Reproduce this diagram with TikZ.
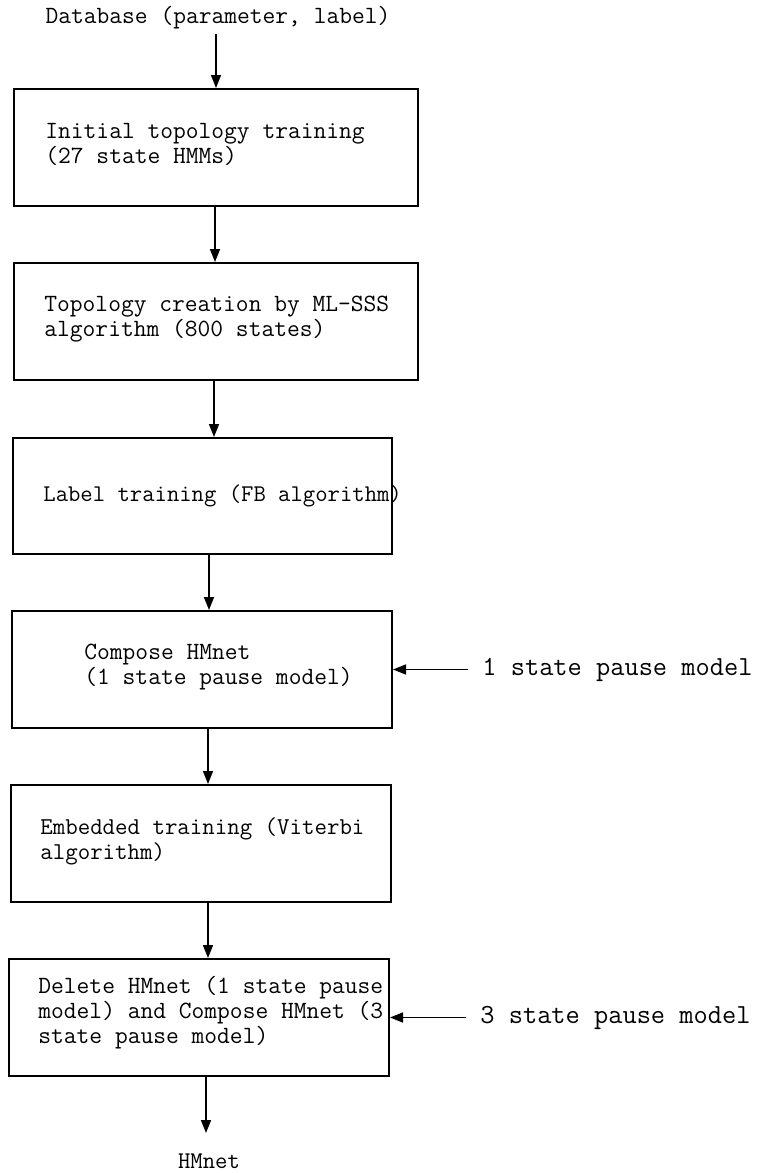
\documentclass[tikz,border=0pt]{standalone}
\usetikzlibrary{arrows.meta}
\begin{document}
\begin{tikzpicture}[x=0.5pt,y=-0.5pt,
  stepbox/.style={draw, line width=1pt, rectangle, inner sep=0pt, anchor=north west},
  txt/.style={font=\fontsize{12.4}{12.5}\selectfont\ttfamily, inner sep=0pt, align=left, anchor=west},
  lbl/.style={font=\fontsize{13.8}{14}\selectfont\ttfamily, inner sep=0pt, anchor=base west},
  flow/.style={line width=0.8pt, -{Triangle[length=6.5pt,width=5pt]}}]
\useasboundingbox (0,0) rectangle (760,1173);
% boxes
\node[stepbox, minimum width=202pt, minimum height=58.5pt] (b1) at (13,88) {};
\node[stepbox, minimum width=202pt, minimum height=58.5pt] (b2) at (13,262) {};
\node[stepbox, minimum width=189.5pt, minimum height=58pt] (b3) at (12,437) {};
\node[stepbox, minimum width=190pt, minimum height=58.5pt] (b4) at (11,610) {};
\node[stepbox, minimum width=190pt, minimum height=58.5pt] (b5) at (10,784) {};
\node[stepbox, minimum width=190pt, minimum height=58.5pt] (b6) at (8,958) {};
% box texts
\node[txt] (t1) at (45,144.5) {Initial topology training\\(27 state HMMs)};
\node[txt] (t2) at (44,319.5) {Topology creation by ML-SSS\\algorithm (800 states)};
\node[txt, font=\fontsize{12}{12.5}\selectfont\ttfamily] (t3) at (43,496) {Label training (FB algorithm)};
\node[txt] (t4) at (84,667) {Compose HMnet\\(1 state pause model)};
\node[txt, font=\fontsize{12.1}{12.5}\selectfont\ttfamily] (t5) at (40,841.5) {Embedded training (Viterbi\\algorithm)};
\node[txt] (t6) at (38,1013) {Delete HMnet (1 state pause\\model) and Compose HMnet (3\\state pause model)};
% outside texts
\node[font=\fontsize{12.4}{12.5}\selectfont\ttfamily, inner sep=0pt, anchor=base] (db) at (218,23) {Database (parameter, label)};
\node[lbl] (p1) at (482,675) {1 state pause model};
\node[lbl] (p2) at (480,1023) {3 state pause model};
\node[font=\fontsize{12}{12.5}\selectfont\ttfamily, inner sep=0pt, anchor=base] (hm) at (209,1168) {HMnet};
% arrow x positions
\coordinate (x1) at (216,0);
\coordinate (x2) at (215,0);
\coordinate (x3) at (214,0);
\coordinate (x4) at (209,0);
\coordinate (x5) at (208,0);
\coordinate (x6) at (208,0);
\coordinate (x7) at (206,0);
\coordinate (s1) at (468,0);
\coordinate (s2) at (466,0);
\coordinate (e7) at (206,1133);
% connectors
\draw[flow] ([yshift=-2.5pt]db.south -| x1) -- (b1.north -| x1);
\draw[flow] (b1.south -| x2) -- (b2.north -| x2);
\draw[flow] (b2.south -| x3) -- (b3.north -| x3);
\draw[flow] (b3.south -| x4) -- (b4.north -| x4);
\draw[flow] (b4.south -| x5) -- (b5.north -| x5);
\draw[flow] (b5.south -| x6) -- (b6.north -| x6);
\draw[flow] (b6.south -| x7) -- (e7);
\draw[flow] (s1 |- b4.east) -- (b4.east);
\draw[flow] (s2 |- b6.east) -- (b6.east);
\end{tikzpicture}
\end{document}
